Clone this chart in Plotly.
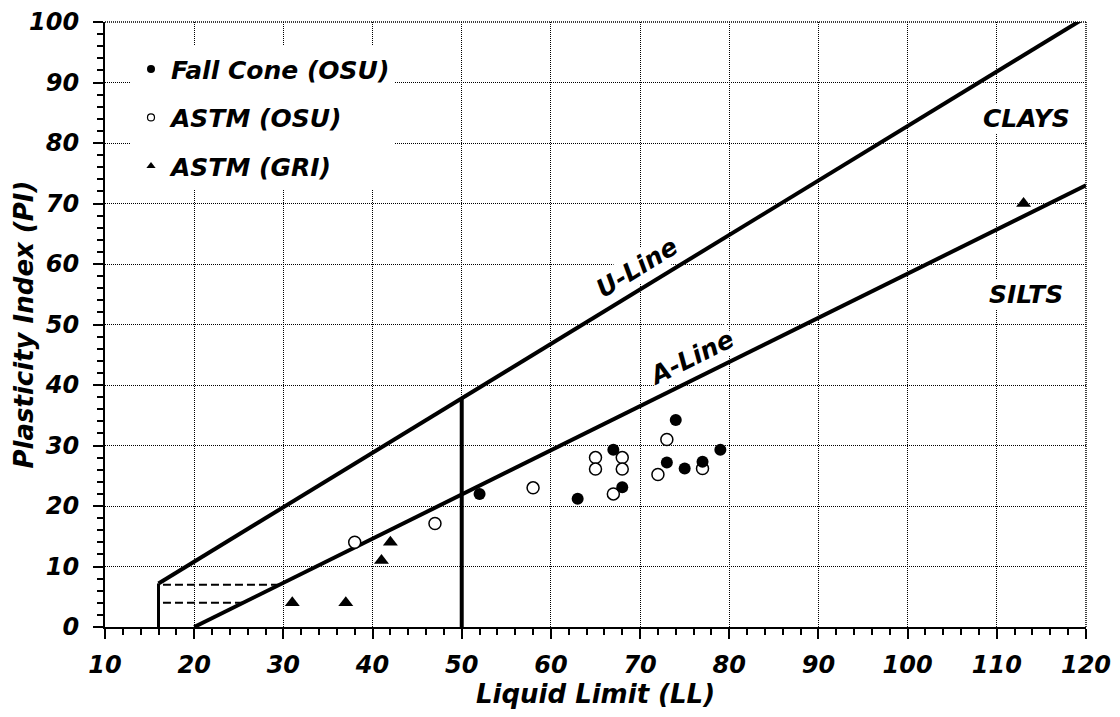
import plotly.graph_objects as go

# ---- data ----
fall_cone_ll = [52, 63, 67, 68, 73, 74, 75, 77, 79]
fall_cone_pi = [22, 21.2, 29.3, 23.1, 27.2, 34.2, 26.2, 27.3, 29.3]

astm_osu_ll = [38, 47, 58, 65, 65, 68, 68, 67, 73, 72, 77]
astm_osu_pi = [14, 17.1, 23, 28, 26.1, 28, 26.1, 22, 31, 25.2, 26.2]

astm_gri_ll = [31, 37, 41, 42, 113]
astm_gri_pi = [4, 4, 11, 14, 70]

u_line_ll = [16, 120]
u_line_pi = [7.2, 100.8]
a_line_ll = [20, 120]
a_line_pi = [0, 73]
v16_ll = [16, 16]
v16_pi = [0, 7.2]
v50_ll = [50, 50]
v50_pi = [0, 37.8]
dash7_ll = [16.5, 29.6]
dash7_pi = [7, 7]
dash4_ll = [16.5, 25.5]
dash4_pi = [4, 4]

x_ticks = list(range(10, 121, 10))
y_ticks = list(range(0, 101, 10))

FONT = "DejaVu Sans"

def tfont(size):
    return dict(family=FONT, size=size, color="black", weight="bold", style="italic")

fig = go.Figure()

line_style = dict(color="black", width=4)
fig.add_trace(go.Scatter(x=u_line_ll, y=u_line_pi, mode="lines", line=line_style,
                         showlegend=False, hoverinfo="skip"))
fig.add_trace(go.Scatter(x=a_line_ll, y=a_line_pi, mode="lines", line=line_style,
                         showlegend=False, hoverinfo="skip"))
fig.add_trace(go.Scatter(x=v16_ll, y=v16_pi, mode="lines", line=dict(color="black", width=3),
                         showlegend=False, hoverinfo="skip"))
fig.add_trace(go.Scatter(x=v50_ll, y=v50_pi, mode="lines", line=line_style,
                         showlegend=False, hoverinfo="skip"))
for xs, ys in [(dash7_ll, dash7_pi), (dash4_ll, dash4_pi)]:
    fig.add_trace(go.Scatter(x=xs, y=ys, mode="lines",
                             line=dict(color="black", width=2, dash="8px,4px"),
                             showlegend=False, hoverinfo="skip"))

# data markers (open drawn first so filled ones sit on top)
fig.add_trace(go.Scatter(x=astm_osu_ll, y=astm_osu_pi, mode="markers", showlegend=False,
                         marker=dict(symbol="circle", size=12, color="white",
                                     line=dict(color="black", width=1.5))))
fig.add_trace(go.Scatter(x=astm_gri_ll, y=astm_gri_pi, mode="markers", showlegend=False,
                         marker=dict(symbol="triangle-up", size=13, color="black",
                                     line=dict(width=0))))
fig.add_trace(go.Scatter(x=fall_cone_ll, y=fall_cone_pi, mode="markers", showlegend=False,
                         marker=dict(symbol="circle", size=12, color="black",
                                     line=dict(width=0))))

# legend entries
fig.add_trace(go.Scatter(x=[None], y=[None], mode="markers", name="Fall Cone (OSU)",
                         legendgroup="a", legendrank=1,
                         marker=dict(symbol="circle", size=8, color="black", line=dict(width=0))))
fig.add_trace(go.Scatter(x=[None], y=[None], mode="markers", name="ASTM (OSU)",
                         legendgroup="b", legendrank=2,
                         marker=dict(symbol="circle", size=7, color="white",
                                     line=dict(color="black", width=1.2))))
fig.add_trace(go.Scatter(x=[None], y=[None], mode="markers", name="ASTM (GRI)",
                         legendgroup="c", legendrank=3,
                         marker=dict(symbol="triangle-up", size=8, color="black", line=dict(width=0))))

grid_dash = "1px,1px"

fig.update_xaxes(
    range=[10, 120], tickvals=x_ticks, ticktext=[str(v) for v in x_ticks],
    showline=True, linecolor="black", linewidth=2,
    ticks="outside", ticklen=10, tickwidth=2, tickcolor="black",
    minor=dict(dtick=2, tick0=10, ticks="outside", ticklen=6, tickwidth=1.5, tickcolor="black", showgrid=False),
    showgrid=True, gridcolor="black", gridwidth=1, griddash=grid_dash,
    zeroline=False, tickfont=tfont(24), ticklabelstandoff=5,
    title=dict(text="Liquid Limit (LL)", font=tfont(26), standoff=5),
)
fig.update_yaxes(
    range=[0, 100], tickvals=y_ticks, ticktext=[str(v) for v in y_ticks],
    showline=True, linecolor="black", linewidth=2,
    ticks="outside", ticklen=10, tickwidth=2, tickcolor="black",
    minor=dict(dtick=2, tick0=0, ticks="outside", ticklen=6, tickwidth=1.5, tickcolor="black", showgrid=False),
    showgrid=True, gridcolor="black", gridwidth=1, griddash=grid_dash,
    zeroline=False, tickfont=tfont(24), ticklabelstandoff=9,
)

# y-axis title as a rotated annotation (placed closer to the tick labels)
fig.add_annotation(text="Plasticity Index (PI)", xref="paper", yref="paper",
                   x=-0.0826, y=0.5, xanchor="center", yanchor="middle",
                   textangle=-90, showarrow=False, font=tfont(26))

# top / right frame
fig.add_shape(type="line", xref="paper", yref="paper", x0=0, x1=1, y0=1, y1=1,
              line=dict(color="black", width=1.5, dash=grid_dash))
fig.add_shape(type="line", xref="paper", yref="paper", x0=1, x1=1, y0=0, y1=1,
              line=dict(color="black", width=1.5, dash=grid_dash))

ann_common = dict(showarrow=False, bgcolor="white", font=tfont(25), xref="x", yref="y",
                  xanchor="center", yanchor="middle", borderpad=0)
fig.add_annotation(x=69.7, y=59.4, text="U-Line", textangle=-31.5, **ann_common)
fig.add_annotation(x=75.8, y=44.5, text="A-Line", textangle=-26.4, **ann_common)
fig.add_annotation(x=113.3, y=84, text="CLAYS", **ann_common)
fig.add_annotation(x=113.3, y=54.9, text="SILTS", **ann_common)

fig.update_layout(
    width=1120, height=717,
    margin=dict(l=105, r=34, t=22, b=90, autoexpand=False),
    paper_bgcolor="white", plot_bgcolor="white",
    legend=dict(x=0.0265, y=0.96, xanchor="left", yanchor="top",
                bgcolor="white", borderwidth=0, font=tfont(25),
                tracegroupgap=13, itemwidth=30),
    showlegend=True,
)

fig.write_html("out.html")
